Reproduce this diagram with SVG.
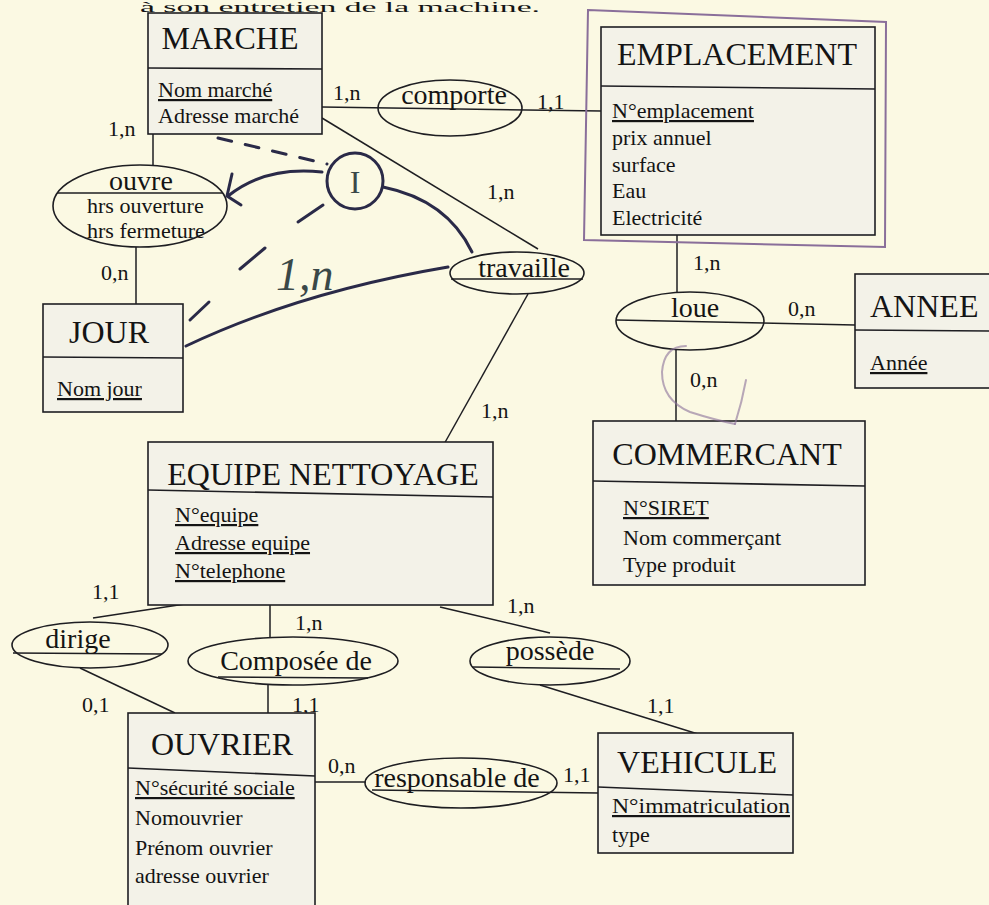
<svg xmlns="http://www.w3.org/2000/svg" width="989" height="905" viewBox="0 0 989 905">
<style>
.bg{fill:#fbf9e3}
.ent{fill:#f3f2e8;stroke:#1e1e22;stroke-width:1.6}
.div{stroke:#1e1e22;stroke-width:1.6;fill:none}
.rel{fill:none;stroke:#1e1e22;stroke-width:1.6}
.ln{stroke:#1e1e22;stroke-width:1.5;fill:none}
.t{font-family:"Liberation Serif","Times New Roman",serif;fill:#141414}
.title{font-size:32px}
.attr{font-size:22px}
.rname{font-size:28px}
.card{font-size:22px}
.m{text-anchor:middle}
.u{text-decoration:underline}
.hw{stroke:#2a2a48;stroke-width:3;fill:none;stroke-linecap:round}
.hwt{font-family:"Liberation Serif",serif;fill:#3a4848}
.pur{stroke:#8a6f9a;stroke-width:2;fill:none;stroke-linecap:round}
</style>
<rect class="bg" x="0" y="0" width="989" height="905"/>
<text class="t" x="140" y="12" font-size="15" textLength="400" lengthAdjust="spacingAndGlyphs">à son entretien de la machine.</text>

<g id="connectors">
  <line class="ln" x1="322" y1="107" x2="601" y2="111"/>
  <line class="ln" x1="322" y1="118" x2="538" y2="249"/>
  <line class="ln" x1="528" y1="294" x2="443" y2="446"/>
  <line class="ln" x1="153" y1="134" x2="153" y2="166"/>
  <line class="ln" x1="136" y1="247" x2="136" y2="304"/>
  <line class="ln" x1="677" y1="235" x2="677" y2="292"/>
  <line class="ln" x1="616" y1="320" x2="855" y2="325"/>
  <line class="ln" x1="676" y1="350" x2="676" y2="421"/>
  <line class="ln" x1="185" y1="604" x2="93" y2="618"/>
  <line class="ln" x1="80" y1="668" x2="175" y2="713"/>
  <line class="ln" x1="270" y1="605" x2="270" y2="637"/>
  <line class="ln" x1="268" y1="685" x2="268" y2="714"/>
  <line class="ln" x1="440" y1="607" x2="550" y2="633"/>
  <line class="ln" x1="540" y1="685" x2="698" y2="734"/>
  <line class="ln" x1="315" y1="782" x2="366" y2="782"/>
  <line class="ln" x1="372" y1="790" x2="598" y2="793"/>
</g>

<g id="cardinalities" class="t card">
  <text x="333" y="100">1,n</text>
  <text x="537" y="109">1,1</text>
  <text x="487" y="199">1,n</text>
  <text x="481" y="418">1,n</text>
  <text x="108" y="136">1,n</text>
  <text x="101" y="280">0,n</text>
  <text x="693" y="270">1,n</text>
  <text x="788" y="316">0,n</text>
  <text x="690" y="387">0,n</text>
  <text x="92" y="599">1,1</text>
  <text x="82" y="712">0,1</text>
  <text x="295" y="630">1,n</text>
  <text x="292" y="712">1,1</text>
  <text x="507" y="613">1,n</text>
  <text x="647" y="713">1,1</text>
  <text x="328" y="773">0,n</text>
  <text x="563" y="782">1,1</text>
</g>

<g id="MARCHE">
  <rect class="ent" x="148" y="13" width="174" height="121"/>
  <line class="div" x1="148" y1="68" x2="322" y2="69"/>
  <text class="t title m" x="230" y="49">MARCHE</text>
  <text class="t attr u" x="158" y="97">Nom marché</text>
  <text class="t attr" x="158" y="123">Adresse marché</text>
</g>

<g id="EMPLACEMENT">
  <path class="pur" d="M588,10 L886,22 L885,247 L584,240 Z" stroke="#6f6488"/>
  <rect class="ent" x="601" y="27" width="274" height="208"/>
  <line class="div" x1="601" y1="86" x2="875" y2="89"/>
  <text class="t title m" x="737" y="65">EMPLACEMENT</text>
  <text class="t attr u" x="612" y="118">N°emplacement</text>
  <text class="t attr" x="612" y="145">prix annuel</text>
  <text class="t attr" x="612" y="172">surface</text>
  <text class="t attr" x="612" y="198">Eau</text>
  <text class="t attr" x="612" y="225">Electricité</text>
</g>

<g id="comporte">
  <ellipse class="rel" cx="450" cy="108" rx="72" ry="28"/>
  <text class="t rname m" x="454" y="104">comporte</text>
</g>

<g id="ouvre">
  <ellipse class="rel" cx="140" cy="206" rx="87" ry="41"/>
  <line class="div" x1="57" y1="193" x2="223" y2="193"/>
  <text class="t rname m" x="141" y="190">ouvre</text>
  <text class="t attr" x="87" y="213">hrs ouverture</text>
  <text class="t attr" x="87" y="238">hrs fermeture</text>
</g>

<g id="JOUR">
  <rect class="ent" x="43" y="304" width="140" height="108"/>
  <line class="div" x1="43" y1="357" x2="183" y2="358"/>
  <text class="t title m" x="109" y="343">JOUR</text>
  <text class="t attr u" x="57" y="396">Nom jour</text>
</g>

<g id="travaille">
  <ellipse class="rel" cx="517" cy="273" rx="67" ry="21"/>
  <line class="div" x1="451" y1="279" x2="583" y2="279"/>
  <text class="t rname m" x="524" y="277">travaille</text>
</g>

<g id="loue">
  <ellipse class="rel" cx="690" cy="321" rx="74" ry="29"/>
  <text class="t rname m" x="695" y="317">loue</text>
</g>

<g id="ANNEE">
  <rect class="ent" x="855" y="274" width="150" height="114"/>
  <line class="div" x1="855" y1="330" x2="989" y2="331"/>
  <text class="t title" x="870" y="317">ANNEE</text>
  <text class="t attr u" x="870" y="370">Année</text>
</g>

<g id="COMMERCANT">
  <rect class="ent" x="593" y="421" width="272" height="164"/>
  <line class="div" x1="593" y1="481" x2="865" y2="486"/>
  <text class="t title m" x="727" y="465">COMMERCANT</text>
  <text class="t attr u" x="623" y="515">N°SIRET</text>
  <text class="t attr" x="623" y="545">Nom commerçant</text>
  <text class="t attr" x="623" y="572">Type produit</text>
</g>

<g id="EQUIPE_NETTOYAGE">
  <rect class="ent" x="148" y="442" width="345" height="163"/>
  <line class="div" x1="148" y1="490" x2="493" y2="497"/>
  <text class="t title m" x="323" y="485">EQUIPE NETTOYAGE</text>
  <text class="t attr u" x="175" y="522">N°equipe</text>
  <text class="t attr u" x="175" y="550">Adresse equipe</text>
  <text class="t attr u" x="175" y="578">N°telephone</text>
</g>

<g id="dirige">
  <ellipse class="rel" cx="90" cy="645" rx="78" ry="23"/>
  <line class="div" x1="13" y1="653" x2="162" y2="654"/>
  <text class="t rname m" x="78" y="648">dirige</text>
</g>

<g id="composee_de">
  <ellipse class="rel" cx="293" cy="661" rx="105" ry="24"/>
  <line class="div" x1="218" y1="677" x2="368" y2="678"/>
  <text class="t rname m" x="296" y="670">Composée de</text>
</g>

<g id="possede">
  <ellipse class="rel" cx="550" cy="661" rx="80" ry="24"/>
  <line class="div" x1="472" y1="667" x2="620" y2="669"/>
  <text class="t rname m" x="550" y="660">possède</text>
</g>

<g id="OUVRIER">
  <rect class="ent" x="128" y="713" width="187" height="200"/>
  <line class="div" x1="128" y1="768" x2="315" y2="776"/>
  <text class="t title m" x="222" y="755">OUVRIER</text>
  <text class="t attr u" x="135" y="795" font-size="23">N°sécurité sociale</text>
  <text class="t attr" x="135" y="825" font-size="23">Nomouvrier</text>
  <text class="t attr" x="135" y="855" font-size="23">Prénom ouvrier</text>
  <text class="t attr" x="135" y="883" font-size="23">adresse ouvrier</text>
</g>

<g id="responsable_de">
  <ellipse class="rel" cx="461" cy="783" rx="96" ry="25"/>
  <text class="t rname m" x="457" y="787" font-size="27">responsable de</text>
</g>

<g id="VEHICULE">
  <rect class="ent" x="598" y="733" width="195" height="120"/>
  <line class="div" x1="598" y1="787" x2="793" y2="795"/>
  <text class="t title m" x="697" y="773">VEHICULE</text>
  <text class="t attr u" x="612" y="813" textLength="178" lengthAdjust="spacingAndGlyphs">N°immatriculation</text>
  <text class="t attr" x="612" y="842">type</text>
</g>

<g id="annotations">
  <line class="hw" x1="218" y1="138" x2="327" y2="164" stroke-dasharray="14,14"/>
  <circle class="hw" cx="355" cy="181" r="28" stroke-width="2.5"/>
  <text class="hwt" x="355" y="193" font-size="32" text-anchor="middle">I</text>
  <path class="hw" d="M322,172 Q265,166 228,196"/>
  <path class="hw" d="M232,174 L227,196 L241,205" stroke-width="2.5"/>
  <path class="hw" d="M383,187 Q447,200 472,252"/>
  <line class="hw" x1="323" y1="205" x2="298" y2="222"/>
  <line class="hw" x1="265" y1="248" x2="240" y2="269"/>
  <line class="hw" x1="209" y1="302" x2="190" y2="320"/>
  <path class="hw" d="M186,346 Q300,292 448,267"/>
  <text class="hwt" x="276" y="290" font-size="46" font-style="italic">1,n</text>
  <path class="pur" d="M686,346 Q664,346 662,372 Q662,400 690,412 Q715,420 735,424" stroke-width="1.6" opacity="0.6"/>
  <path class="pur" d="M746,380 Q742,402 735,424" stroke-width="1.6" opacity="0.6"/>
</g>
</svg>
